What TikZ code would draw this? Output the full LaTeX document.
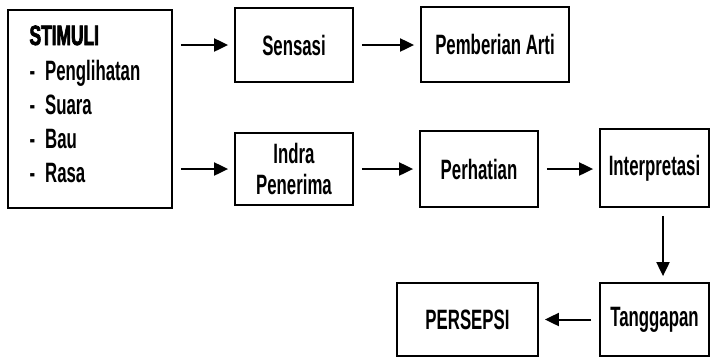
\documentclass[tikz,border=0pt]{standalone}
\usepackage{fontspec}
\setmainfont{Liberation Sans}[FakeStretch=0.6]
\newfontfamily\heavyfont{Liberation Sans Bold}[FakeStretch=0.62,FakeBold=2.5]
\usetikzlibrary{arrows.meta}
\begin{document}
\begin{tikzpicture}[x=1pt,y=-1pt,
  txt/.style={font=\fontsize{28}{31}\selectfont\bfseries},
  box/.style={draw,line width=1.8pt,inner sep=0pt,txt,align=center},
  item/.style={anchor=base west,txt},
  arr/.style={line width=2pt,-{Triangle[length=14pt,width=13pt]},shorten >=6pt,shorten <=8pt}]
\useasboundingbox (0,0) rectangle (719,357);
\node[box,minimum width=164pt,minimum height=198pt] (stim) at (90,109) {};
\node[item,font=\fontsize{28}{31}\heavyfont] (st) at (26,45) {STIMULI};
\node[item] (l1) at (26,80) {-\hspace{10pt}Penglihatan};
\node[item] (l2) at (26,114.5) {-\hspace{10pt}Suara};
\node[item] (l3) at (26,148.5) {-\hspace{10pt}Bau};
\node[item] (l4) at (26,182) {-\hspace{10pt}Rasa};
\node[box,minimum width=118pt,minimum height=74pt] (sens) at (294,45) {Sensasi};
\node[box,minimum width=148pt,minimum height=75pt] (arti) at (495,44.5) {Pemberian Arti};
\node[box,minimum width=118pt,minimum height=72pt] (indra) at (294,169) {Indra\\Penerima};
\node[box,minimum width=118pt,minimum height=76pt] (perh) at (479,169) {Perhatian};
\node[box,minimum width=109pt,minimum height=78pt] (intp) at (654.5,168) {Interpretasi};
\node[box,minimum width=109pt,minimum height=73pt] (tang) at (654.5,319.5) {Tanggapan};
\node[box,minimum width=141pt,minimum height=73pt] (pers) at (467.5,319.5) {PERSEPSI};
\coordinate (a1) at (stim.east |- sens.west);
\coordinate (a2) at (stim.east |- indra.west);
\draw[arr] (a1) -- (sens.west);
\draw[arr] (a2) -- (indra.west);
\draw[arr] (sens.east) -- (arti.west |- sens.east);
\draw[arr] (indra.east) -- (perh.west |- indra.east);
\draw[arr] (perh.east) -- (intp.west |- perh.east);
\coordinate (v1) at ([xshift=8.5pt]intp.south);
\coordinate (v2) at ([xshift=8.5pt]tang.north);
\draw[arr] (v1) -- (v2);
\draw[arr] (tang.west) -- (pers.east);
\end{tikzpicture}
\end{document}
